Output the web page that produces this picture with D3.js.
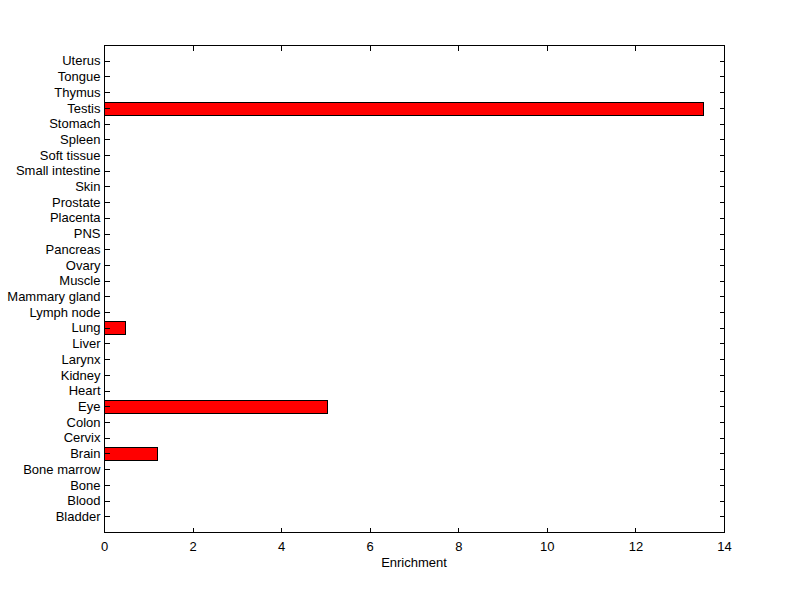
<!DOCTYPE html>
<html><head><meta charset="utf-8">
<script src="https://cdn.jsdelivr.net/npm/d3@7"></script>
<style>
body{margin:0;background:#fff;}
text{font-family:Arial,"Liberation Sans",Helvetica,sans-serif;}
</style></head>
<body>
<svg id="c" width="800" height="599"></svg>
<script>
const categories = ["Bladder","Blood","Bone","Bone marrow","Brain","Cervix","Colon","Eye","Heart","Kidney","Larynx","Liver","Lung","Lymph node","Mammary gland","Muscle","Ovary","Pancreas","PNS","Placenta","Prostate","Skin","Small intestine","Soft tissue","Spleen","Stomach","Testis","Thymus","Tongue","Uterus"];
const values = [0,0,0,0,1.20,0,0,5.04,0,0,0,0,0.48,0,0,0,0,0,0,0,0,0,0,0,0,0,13.53,0,0,0];
const xTicks = [0,2,4,6,8,10,12,14];
const xLabel = "Enrichment";

const L=104, T=45, R=724, B=532;
const svg = d3.select("#c");
const x = d3.scaleLinear().domain([0,14]).range([L,R]);
const y = d3.scalePoint().domain(categories).range([B,T]).padding(1);
const bh = y.step()*0.8;

svg.append("rect").attr("x",0).attr("y",0).attr("width",800).attr("height",599).attr("fill","#fff");

svg.append("g").selectAll("rect").data(categories.map((c,i)=>({c,v:values[i]})).filter(d=>d.v>0))
  .join("rect")
  .attr("x",x(0)+0.5).attr("y",d=>Math.round(y(d.c)-bh/2)+0.5)
  .attr("width",d=>x(d.v)-x(0)).attr("height",Math.round(bh))
  .attr("fill","#ff0000").attr("stroke","#000").attr("stroke-width",1)
  .attr("shape-rendering","crispEdges");

function style(g){
  g.select(".domain").remove();
  g.selectAll("line").attr("stroke","#000").attr("shape-rendering","crispEdges");
  g.selectAll("text").attr("fill","#000").attr("font-size","13px");
}
svg.append("g").attr("transform",`translate(${L+0.5},0)`)
  .call(d3.axisLeft(y).tickSize(-5).tickPadding(4)).call(style);
svg.append("g").attr("transform",`translate(${R+0.5},0)`)
  .call(d3.axisRight(y).tickSize(-5).tickFormat("")).call(style);
svg.append("g").attr("transform",`translate(0,${B+0.5})`)
  .call(d3.axisBottom(x).tickValues(xTicks).tickSize(-5).tickPadding(9)).call(style);
svg.append("g").attr("transform",`translate(0,${T+0.5})`)
  .call(d3.axisTop(x).tickValues(xTicks).tickSize(-5).tickFormat("")).call(style);

svg.append("rect").attr("x",L+0.5).attr("y",T+0.5).attr("width",R-L).attr("height",B-T)
  .attr("fill","none").attr("stroke","#000").attr("shape-rendering","crispEdges");

svg.append("text").attr("x",(L+R)/2).attr("y",567).attr("text-anchor","middle")
  .attr("font-size","13px").attr("fill","#000").text(xLabel);
</script>
</body></html>
